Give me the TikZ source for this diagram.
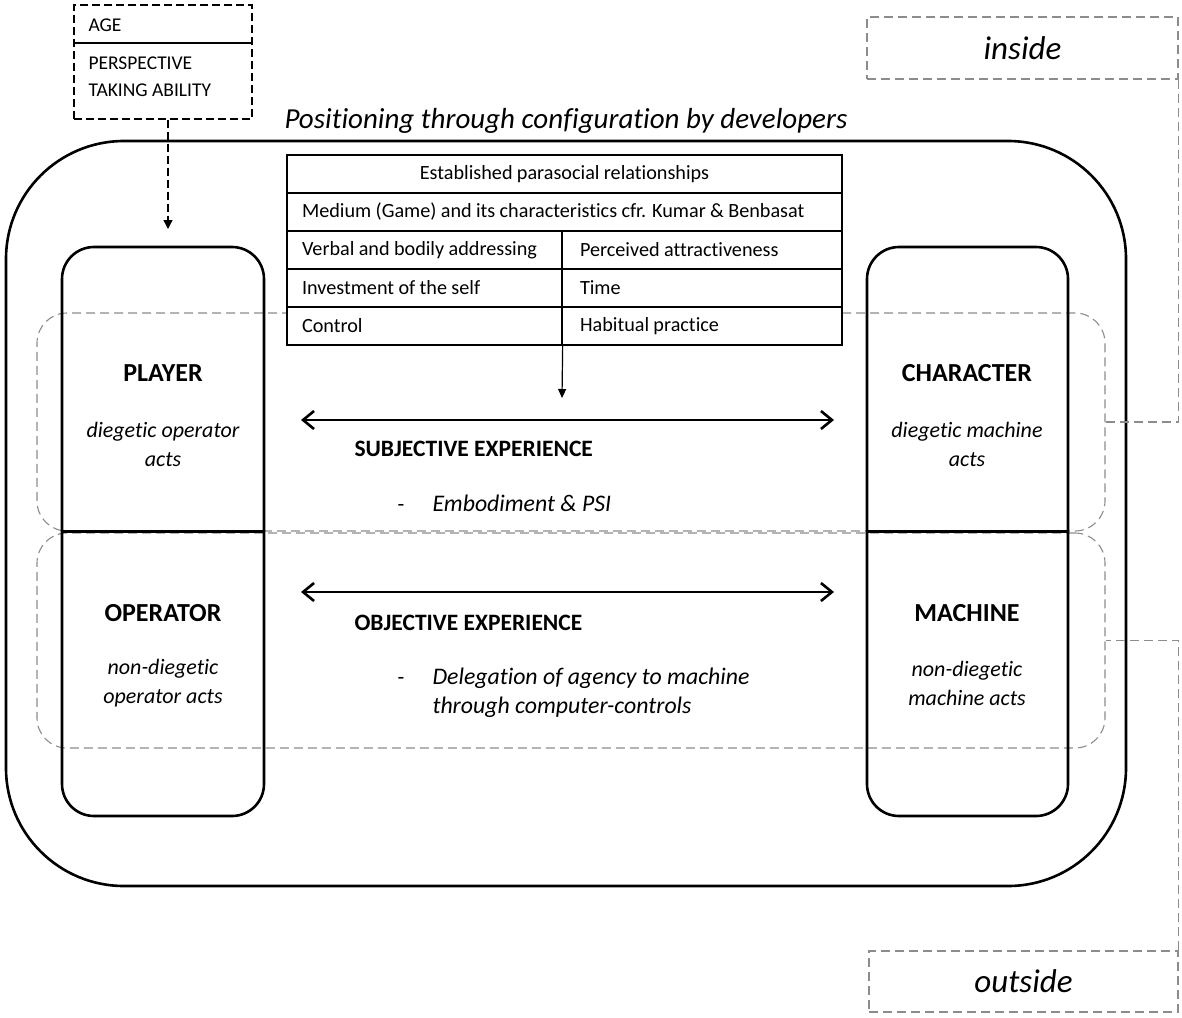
\documentclass[tikz,border=0pt]{standalone}
\usepackage{fontspec}
\setmainfont{Carlito}[Ligatures=NoCommon]
\newfontfamily\tabfont{Carlito}[Ligatures=NoCommon,WordSpace=0.95]
\usetikzlibrary{arrows.meta}
\definecolor{dgray}{RGB}{140,140,140}
\newcommand{\lcell}[2]{\makebox[#1][l]{#2}}
\begin{document}
\begin{tikzpicture}[x=1pt,y=-1pt,
  thickline/.style={line width=2.6pt},
  graydash/.style={draw=dgray,line width=1.1pt,dash pattern=on 9pt off 5pt},
  agedash/.style={line width=1.3pt,dash pattern=on 8pt off 4pt},
  cell/.style={draw,line width=1.3pt,minimum height=38pt,inner ysep=0pt,fill=white,
    font=\tabfont\fontsize{20.2}{24}\selectfont},
  lblbold/.style={font=\fontsize{26}{30}\selectfont\bfseries},
  lblit/.style={font=\fontsize{22}{29}\selectfont\itshape,align=center},
  midbold/.style={anchor=west,font=\fontsize{23.5}{28}\selectfont\bfseries},
  midit/.style={anchor=west,font=\fontsize{23.8}{29}\selectfont\itshape},
  dashtxt/.style={anchor=base west,font=\fontsize{22}{29}\selectfont},
  agetext/.style={anchor=west,font=\fontsize{19.5}{23}\selectfont},
  dblarrow/.style={line width=2.6pt,{Straight Barb[length=11pt,width=18pt]}-{Straight Barb[length=11pt,width=18pt]}},
]
\useasboundingbox (0,0) rectangle (1182,1017);

% dashed gray regions
\node[graydash,rounded corners=30pt,minimum width=1068pt,minimum height=218pt] (inreg) at (571,422) {};
\node[graydash,rounded corners=30pt,minimum width=1068pt,minimum height=215pt] (outreg) at (571,640.5) {};

% outer frame
\node[draw,thickline,rounded corners=118pt,minimum width=1120pt,minimum height=745pt] (outer) at (566,513.5) {};
\node[font=\fontsize{29}{33}\selectfont\itshape] (title) at (566,121) {Positioning through configuration by developers};

% columns
\node[draw,thickline,rounded corners=32pt,minimum width=202pt,minimum height=569pt] (leftcol) at (163,531.5) {};
\node[draw,thickline,rounded corners=32pt,minimum width=201pt,minimum height=569pt] (rightcol) at (967.5,531.5) {};
\draw[line width=3.6pt] (leftcol.west) -- (leftcol.east);
\draw[line width=3.6pt] (rightcol.west) -- (rightcol.east);

\node[lblbold] (player) at (163,373) {PLAYER};
\node[lblit] (playerd) at (163,444) {diegetic operator\\acts};
\node[lblbold] (operator) at (163,613) {OPERATOR};
\node[lblit] (operatord) at (163,683) {non-diegetic\\operator acts};
\node[lblbold] (character) at (967,373) {CHARACTER};
\node[lblit] (characterd) at (967,444) {diegetic machine\\acts};
\node[lblbold] (machine) at (967,613) {MACHINE};
\node[lblit] (machined) at (967,683) {non-diegetic\\machine acts};

% table
\node[cell,inner xsep=0pt,minimum width=555pt] (t1) at (564.5,174) {Established parasocial relationships};
\node[cell,inner xsep=15pt] (t2) at (564.5,212) {\lcell{525pt}{Medium (Game) and its characteristics cfr. Kumar \& Benbasat}};
\node[cell,inner xsep=15pt] (t3l) at (424.5,250) {\lcell{245pt}{Verbal and bodily addressing}};
\node[cell,inner xsep=18pt] (t3r) at (702,250) {\lcell{244pt}{Perceived attractiveness}};
\node[cell,inner xsep=15pt] (t4l) at (424.5,288) {\lcell{245pt}{Investment of the self}};
\node[cell,inner xsep=18pt] (t4r) at (702,288) {\lcell{244pt}{Time}};
\node[cell,inner xsep=15pt] (t5l) at (424.5,326) {\lcell{245pt}{Control}};
\node[cell,inner xsep=18pt] (t5r) at (702,326) {\lcell{244pt}{Habitual practice}};

\coordinate (tabtip) at (562,398);
\draw[line width=1.2pt,-{Triangle[length=9pt,width=8pt]}] (t5l.south east) -- (tabtip);

% middle arrows and texts
\coordinate (a1l) at (301,420);
\coordinate (a1r) at (834,420);
\coordinate (a2l) at (301,592);
\coordinate (a2r) at (834,592);
\draw[dblarrow] (a1l) -- (a1r);
\draw[dblarrow] (a2l) -- (a2r);

\node[midbold] (subj) at (351,449) {SUBJECTIVE EXPERIENCE};
\node[midit] (embod) at (429,503) {Embodiment \& PSI};
\node[dashtxt] (dash1) at ([xshift=-35pt]embod.base west) {-};
\node[midbold] (obj) at (351,623) {OBJECTIVE EXPERIENCE};
\node[midit] (deleg1) at (429,678) {Delegation of agency to machine};
\node[midit] (deleg2) at (429,707) {through computer-controls};
\node[dashtxt] (dash2) at ([xshift=-35pt]deleg1.base west) {-};

% AGE box
\node[draw,agedash,minimum width=178pt,minimum height=114pt] (agebox) at (163,62) {};
\draw[line width=1.3pt] (74,43) -- (252,43);
\node[agetext] (age) at (85,25) {AGE};
\node[agetext] (persp) at (85,63) {PERSPECTIVE};
\node[agetext] (taking) at (85,90) {TAKING ABILITY};
\coordinate (agetip) at (168,229);
\draw[agedash,-{Triangle[length=9pt,width=9pt]}] ([xshift=5pt]agebox.south) -- (agetip);

% inside / outside
\node[graydash,minimum width=311pt,minimum height=62pt,font=\fontsize{33}{38}\selectfont\itshape] (inside) at (1022.5,48) {inside};
\node[graydash,minimum width=309pt,minimum height=61pt,font=\fontsize{33}{38}\selectfont\itshape] (outside) at (1023.5,981.5) {outside};
\draw[graydash] (inside.south east) |- (inreg.east);
\draw[graydash] (outside.north east) |- (outreg.east);
\end{tikzpicture}
\end{document}
